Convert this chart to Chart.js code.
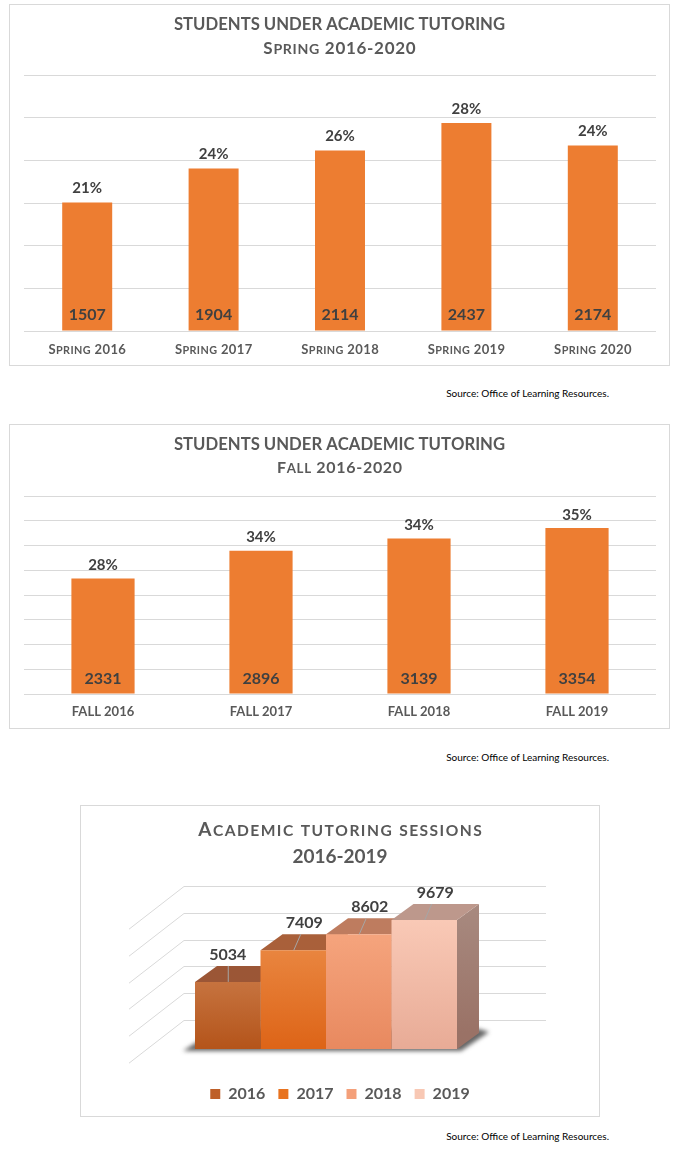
<!DOCTYPE html>
<html><head><meta charset="utf-8">
<script src="https://cdn.jsdelivr.net/npm/chart.js@4/dist/chart.umd.min.js"></script>
<style>
html,body{margin:0;padding:0;background:#fff;}
body{width:688px;height:1167px;position:relative;overflow:hidden;}
.box{position:absolute;border:1px solid #d9d9d9;box-sizing:border-box;background:#fff;}
.box canvas{position:absolute;left:0;top:0;}
.src{position:absolute;right:79px;font:10px Lato, "Open Sans", sans-serif;color:#000;white-space:nowrap;line-height:12px;}
</style></head><body>
<div class="box" style="left:9px;top:4px;width:661px;height:362px"><canvas id="c1" width="659" height="360"></canvas></div>
<div class="src" style="top:387px">Source: Office of Learning Resources.</div>
<div class="box" style="left:9px;top:424px;width:661px;height:305px"><canvas id="c2" width="659" height="303"></canvas></div>
<div class="src" style="top:751px">Source: Office of Learning Resources.</div>
<div class="box" style="left:80px;top:805px;width:520px;height:312px"><canvas id="c3" width="518" height="310"></canvas></div>
<div class="src" style="top:1130px">Source: Office of Learning Resources.</div>
<script>
// ---------- data ----------
const springLabels = ['Spring 2016', 'Spring 2017', 'Spring 2018', 'Spring 2019', 'Spring 2020'];
const springStudents = [1507, 1904, 2114, 2437, 2174];
const springPct = [21, 24, 26, 28, 24];

const fallLabels = ['FALL 2016', 'FALL 2017', 'FALL 2018', 'FALL 2019'];
const fallStudents = [2331, 2896, 3139, 3354];
const fallPct = [28, 34, 34, 35];

const sessionYears = ['2016', '2017', '2018', '2019'];
const sessionCounts = [5034, 7409, 8602, 9679];

const title1 = ['STUDENTS UNDER ACADEMIC TUTORING', 'Spring 2016-2020'];
const title2 = ['STUDENTS UNDER ACADEMIC TUTORING', 'Fall 2016-2020'];
const title3 = ['Academic tutoring sessions', '2016-2019'];

// ---------- styles ----------
const FONT = 'Lato, "Open Sans", sans-serif';
const ORANGE = '#ED7D31';
const GRID = '#D9D9D9';
const TXT = '#595959';
const LBL = '#404040';
const FRONT = [['#C6733F', '#B4541A'], ['#E9853F', '#DD6417'], ['#F5A47D', '#E8895F'], ['#F9C9B6', '#E8AB96']];
const TOPC = ['#9B5636', '#A9603A', '#BE7C5F', '#BD988C'];
const SIDEC = [['#8A4A2C', '#7A3E22'], ['#9A5530', '#8A4826'], ['#A86A50', '#985C44'], ['#A88A80', '#9A7266']];
const LEGENDC = ['#BE5F28', '#E8731F', '#F4A07A', '#F8C8B4'];

Chart.defaults.font.family = FONT;

// small-caps text (lower-case letters drawn as reduced capitals), centred on (cx, cy)
function drawSC(ctx, text, cx, cy, size, ratio, track, color) {
  const runs = [];
  for (const ch of text) {
    const small = ch !== ch.toUpperCase();
    runs.push({ ch: small ? ch.toUpperCase() : ch, s: small ? size * ratio : size });
  }
  let total = 0;
  runs.forEach(r => { ctx.font = 'bold ' + r.s + 'px ' + FONT; r.w = ctx.measureText(r.ch).width; total += r.w; });
  total += track * (runs.length - 1);
  let x = cx - total / 2;
  const baseY = cy + size * 0.3583;
  ctx.fillStyle = color;
  ctx.textAlign = 'left';
  ctx.textBaseline = 'alphabetic';
  runs.forEach(r => { ctx.font = 'bold ' + r.s + 'px ' + FONT; ctx.fillText(r.ch, x, baseY); x += r.w + track; });
}

// chart titles drawn in the reference's small-caps style
const scTitle = {
  id: 'scTitle',
  afterDraw(chart, args, o) {
    const ctx = chart.ctx;
    const cx = chart.width / 2;
    ctx.save();
    o.lines.forEach((ln, i) => drawSC(ctx, ln, cx, o.y[i], o.size[i], o.ratio, o.track[i], TXT));
    ctx.restore();
  }
};

// x-axis category labels in small caps at the category scale's tick positions
const scTicks = {
  id: 'scTicks',
  afterDraw(chart, args, o) {
    if (!o.on) return;
    const ctx = chart.ctx, xs = chart.scales.x;
    ctx.save();
    xs.ticks.forEach((t, i) => drawSC(ctx, String(chart.data.labels[i]), xs.getPixelForTick(i), xs.top + o.gap, o.size, o.ratio, o.track, TXT));
    ctx.restore();
  }
};

const barLabelPlugin = {
  id: 'barLabels',
  afterDatasetsDraw(chart, args, o) {
    const ctx = chart.ctx;
    const meta = chart.getDatasetMeta(0);
    const data = chart.data.datasets[0].data;
    ctx.save();
    ctx.fillStyle = LBL;
    ctx.textAlign = 'center';
    ctx.textBaseline = 'middle';
    meta.data.forEach((bar, i) => {
      ctx.font = 'bold ' + o.pctSize + 'px ' + FONT;
      ctx.fillText(o.pct[i] + '%', bar.x, bar.y - o.pctGap);
      ctx.font = 'bold ' + o.valSize + 'px ' + FONT;
      ctx.fillText(String(data[i]), bar.x, bar.base - o.valGap);
    });
    ctx.restore();
  }
};

function columnChart(id, labels, values, pct, opt) {
  return new Chart(document.getElementById(id), {
    type: 'bar',
    data: { labels: labels, datasets: [{ data: values, backgroundColor: ORANGE, barPercentage: opt.barPct, categoryPercentage: 1 }] },
    options: {
      responsive: false, animation: false, events: [],
      layout: { padding: { left: 14, right: 13, top: opt.top, bottom: 0 } },
      plugins: {
        legend: { display: false }, tooltip: { enabled: false }, title: { display: false },
        scTitle: { lines: opt.title, y: opt.titleY, size: opt.titleSize, ratio: 0.83, track: opt.titleTrack },
        scTicks: { on: opt.scTicks, gap: 18, size: 13, ratio: 0.83, track: 0.4 },
        barLabels: { pct: pct, pctSize: 15, pctGap: opt.pctGap, valSize: 16, valGap: opt.valGap }
      },
      scales: {
        x: { grid: { display: false, drawTicks: false }, border: { display: false },
          ticks: { display: !opt.scTicks, color: TXT, font: { family: FONT, size: 13, weight: 'bold' }, padding: opt.xPad, maxRotation: 0, autoSkip: false },
          afterFit: a => { a.height = 34; } },
        y: { min: 0, max: opt.max, ticks: { display: false, stepSize: 500 },
          grid: { color: GRID, lineWidth: 1, drawTicks: false }, border: { display: false },
          afterFit: a => { a.width = 0; } }
      }
    },
    plugins: [barLabelPlugin, scTitle, scTicks]
  });
}

columnChart('c1', springLabels, springStudents, springPct, {
  title: title1, titleY: [19.2, 43.3], titleSize: [16.7, 17], titleTrack: [0, 0.7], top: 70, scTicks: true,
  barPct: 0.3955, max: 3000, pctGap: 14, valGap: 16, xPad: 9
});
columnChart('c2', fallLabels, fallStudents, fallPct, {
  title: title2, titleY: [19.2, 42.2], titleSize: [16.7, 16], titleTrack: [0, 0.7], top: 71, scTicks: false,
  barPct: 0.4, max: 4000, pctGap: 13, valGap: 15, xPad: 10
});

// ---------- 3D sessions chart ----------
const DX = 22, DY = -16;
function poly(ctx, pts) {
  ctx.beginPath();
  ctx.moveTo(pts[0][0], pts[0][1]);
  for (let k = 1; k < pts.length; k++) ctx.lineTo(pts[k][0], pts[k][1]);
  ctx.closePath();
  ctx.fill();
}
const threeD = {
  id: 'threeD',
  beforeDatasetsDraw(chart) {
    const ctx = chart.ctx, ys = chart.scales.y;
    const bars = chart.data.datasets.map((d, i) => chart.getDatasetMeta(i).data[0]);
    const L = bars[0].x - bars[0].width / 2;
    const last = bars[bars.length - 1];
    const R = last.x + last.width / 2;
    const base = bars[0].base;
    // walls (back + left side)
    const bx0 = L - 11, bx1 = R + 89, wdx = 55, wdy = 42.7, bdy = -29.4;
    ctx.save();
    ctx.strokeStyle = GRID; ctx.lineWidth = 1;
    for (let v = 0; v <= ys.max; v += 2000) {
      const yb = Math.round(ys.getPixelForValue(v) + bdy) + 0.5;
      ctx.beginPath();
      ctx.moveTo(bx0 - wdx, yb + wdy);
      ctx.lineTo(bx0, yb);
      ctx.lineTo(bx1, yb);
      ctx.stroke();
    }
    ctx.restore();
    // floor shadow
    ctx.save();
    ctx.filter = 'blur(2px)';
    ctx.fillStyle = 'rgba(50,50,50,0.75)';
    poly(ctx, [[L - 12, base + 2], [R + 4, base + 2], [R + DX + 10, base + DY - 1], [R + DX, base + DY - 4], [L + DX, base + DY - 4]]);
    ctx.restore();
    // side and top faces
    ctx.save();
    bars.forEach((b, i) => {
      const l = b.x - b.width / 2, r = b.x + b.width / 2, t = b.y, bs = b.base;
      const g = ctx.createLinearGradient(0, t + DY, 0, bs + DY);
      g.addColorStop(0, SIDEC[i][0]); g.addColorStop(1, SIDEC[i][1]);
      ctx.fillStyle = g;
      poly(ctx, [[r, t], [r + DX, t + DY], [r + DX, bs + DY], [r, bs]]);
      ctx.fillStyle = TOPC[i];
      poly(ctx, [[l, t], [l + DX, t + DY], [r + DX, t + DY], [r, t]]);
    });
    ctx.restore();
  },
  afterDatasetsDraw(chart) {
    const ctx = chart.ctx;
    ctx.save();
    chart.data.datasets.forEach((d, i) => {
      const b = chart.getDatasetMeta(i).data[0];
      ctx.strokeStyle = '#A6A6A6'; ctx.lineWidth = 1;
      ctx.beginPath();
      ctx.moveTo(b.x + 0.5, b.y);
      ctx.lineTo(b.x + 0.5 + (i ? 7 : 0), b.y + DY);
      ctx.stroke();
      ctx.fillStyle = LBL;
      ctx.font = 'bold 16px ' + FONT;
      ctx.textAlign = 'center'; ctx.textBaseline = 'middle';
      ctx.fillText(String(d.data[0]), b.x + (i ? 11 : 0), b.y - 27);
    });
    ctx.restore();
  }
};

function frontFill(i) {
  return c => {
    const ys = c.chart.scales.y;
    if (!ys || c.raw == null) return FRONT[i][0];
    const y0 = ys.getPixelForValue(c.raw), y1 = ys.getPixelForValue(0);
    if (!isFinite(y0) || !isFinite(y1) || y0 === y1) return FRONT[i][0];
    const g = c.chart.ctx.createLinearGradient(0, y0, 0, y1);
    g.addColorStop(0, FRONT[i][0]); g.addColorStop(1, FRONT[i][1]);
    return g;
  };
}

new Chart(document.getElementById('c3'), {
  type: 'bar',
  data: {
    labels: [''],
    datasets: sessionYears.map((yr, i) => ({
      label: yr, data: [sessionCounts[i]], backgroundColor: frontFill(i),
      borderWidth: 0, barPercentage: 1, categoryPercentage: 0.7005
    }))
  },
  options: {
    responsive: false, animation: false, events: [],
    layout: { padding: { left: 58, right: 58, top: 109.7, bottom: 4 } },
    plugins: {
      tooltip: { enabled: false }, title: { display: false },
      scTitle: { lines: title3, y: [23, 49.7], size: [19, 19], ratio: 0.82, track: [1.45, 0] },
      legend: { position: 'bottom',
        labels: { boxWidth: 10, boxHeight: 10, padding: 13, color: TXT,
          font: { family: FONT, size: 16, weight: 'bold' },
          generateLabels: ch => ch.data.datasets.map((d, i) => ({
            text: d.label, fillStyle: LEGENDC[i], strokeStyle: LEGENDC[i], lineWidth: 0,
            hidden: false, datasetIndex: i, fontColor: TXT })) } }
    },
    scales: {
      x: { grid: { display: false, drawTicks: false }, border: { display: false }, ticks: { display: false },
        afterFit: a => { a.height = 24; } },
      y: { position: 'right', min: 0, max: 10000, grid: { display: false, drawTicks: false }, border: { display: false },
        ticks: { display: false, stepSize: 2000 }, afterFit: a => { a.width = 28; } }
    }
  },
  plugins: [threeD, scTitle]
});
</script>
</body></html>
